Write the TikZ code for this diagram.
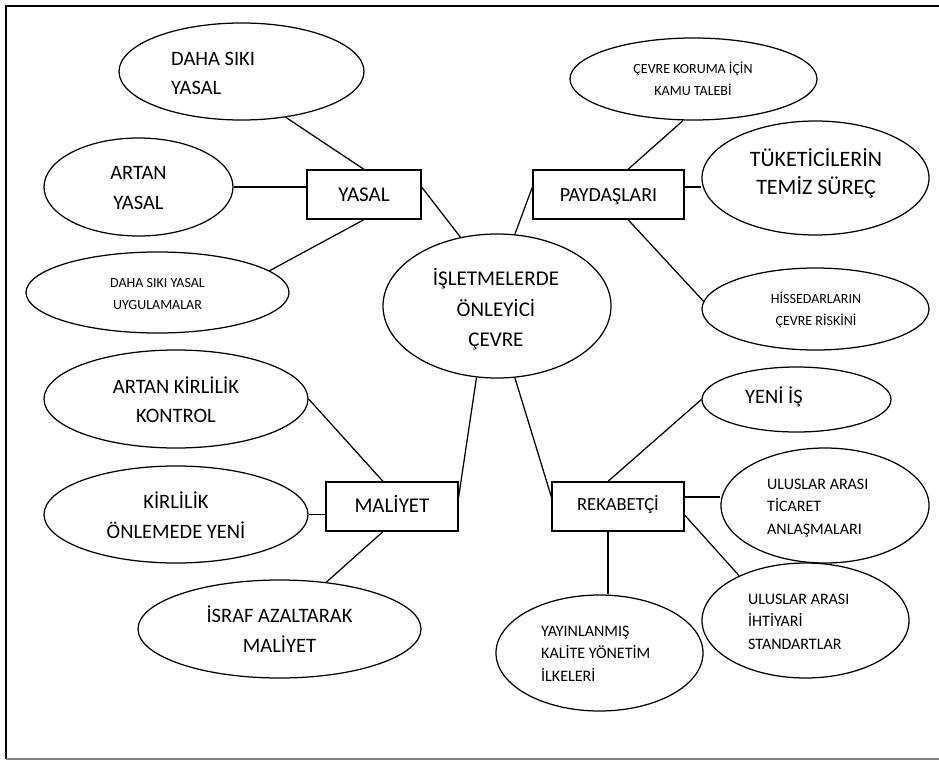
\documentclass[tikz,border=0pt]{standalone}
\usepackage{fontspec}
\setmainfont{Carlito}
\usetikzlibrary{shapes.geometric,calc}
\newcommand{\st}{\rule[-0.268em]{0pt}{1.168em}}
\tikzset{
  ell/.style={draw, ellipse, line width=1.25pt, inner sep=0pt},
  box/.style={draw, rectangle, line width=1.25pt, inner sep=0pt},
  lnk/.style={line width=1.25pt},
  txt/.style={inner sep=0pt},
  bigf/.style={font=\fontsize{20.5}{29.5}\selectfont},
  cenf/.style={font=\fontsize{21}{30.5}\selectfont},
  hugef/.style={font=\fontsize{22}{28}\selectfont},
  smallf/.style={font=\fontsize{14}{22}\selectfont},
  medf/.style={font=\fontsize{16}{22.5}\selectfont},
}
\begin{document}
\begin{tikzpicture}[x=1pt,y=-1pt]
\useasboundingbox (0,0) rectangle (939,760);
% frame
\coordinate (ftr) at (939,6);
\coordinate (ftl) at (6,6);
\coordinate (fbl) at (6,759);
\coordinate (fbr) at (939,759);
\draw[line width=1.6pt] (ftr) -- (ftl) -- (fbl);
\draw[line width=1.4pt, black!50] (fbl) -- (fbr);

% ellipses
\node[ell, minimum width=245pt, minimum height=97pt] (e1) at (241.5,71.5) {};
\node[ell, minimum width=189pt, minimum height=98pt] (e2) at (138.5,187) {};
\node[ell, minimum width=263pt, minimum height=81pt] (e3) at (157.5,292.5) {};
\node[ell, minimum width=228pt, minimum height=144pt] (c) at (497,306) {};
\node[ell, minimum width=247pt, minimum height=82pt] (e4) at (693.5,79) {};
\node[ell, minimum width=227pt, minimum height=114pt] (e5) at (815.5,178) {};
\node[ell, minimum width=227pt, minimum height=82pt] (e6) at (815.5,309) {};
\node[ell, minimum width=264pt, minimum height=98pt] (e7) at (176,399) {};
\node[ell, minimum width=264pt, minimum height=97pt] (e8) at (176,514.5) {};
\node[ell, minimum width=283pt, minimum height=98pt] (e9) at (279.5,629) {};
\node[ell, minimum width=189pt, minimum height=65pt] (e10) at (796.5,399.5) {};
\node[ell, minimum width=208pt, minimum height=115pt] (e11) at (825,505.5) {};
\node[ell, minimum width=207pt, minimum height=115pt] (e12) at (805.5,620.5) {};
\node[ell, minimum width=207pt, minimum height=116pt] (e13) at (599.5,653) {};

% boxes
\node[box, minimum width=114pt, minimum height=49pt] (r1) at (364,194.5) {};
\node[box, minimum width=151pt, minimum height=49pt] (r2) at (608.5,194.5) {};
\node[box, minimum width=132pt, minimum height=49pt] (r3) at (392,506.5) {};
\node[box, minimum width=132pt, minimum height=49pt] (r4) at (618,506.5) {};

% texts
\node[txt, bigf, align=left, anchor=west] (t1) at (171,73.5) {\st DAHA SIKI\\\st YASAL};
\node[txt, bigf, align=center] (t2) at (138.5,188) {\st ARTAN\\\st YASAL};
\node[txt, smallf, align=center] (t3) at (157.5,294) {\st DAHA SIKI YASAL\\\st UYGULAMALAR};
\node[txt, cenf, align=center] (tc) at (496,309.5) {\st İŞLETMELERDE\\\st ÖNLEYİCİ\\\st ÇEVRE};
\node[txt, smallf, align=center] (t4) at (693,80) {\st ÇEVRE KORUMA İÇİN\\\st KAMU TALEBİ};
\node[txt, hugef, align=center] (t5) at (816,174) {\st TÜKETİCİLERİN\\\st TEMİZ SÜREÇ};
\node[txt, smallf, align=center] (t6) at (816,310) {\st HİSSEDARLARIN\\\st ÇEVRE RİSKİNİ};
\node[txt, bigf, align=center] (t7) at (176,401.5) {\st ARTAN KİRLİLİK\\\st KONTROL};
\node[txt, bigf, align=center] (t8) at (176,517) {\st KİRLİLİK\\\st ÖNLEMEDE YENİ};
\node[txt, bigf, align=center] (t9) at (279.5,631) {\st İSRAF AZALTARAK\\\st MALİYET};
\node[txt, bigf, anchor=base west] (t10) at (745,403.8) {YENİ İŞ};
\node[txt, medf, align=left, anchor=west] (t11) at (767,506.5) {\st ULUSLAR ARASI\\\st TİCARET\\\st ANLAŞMALARI};
\node[txt, medf, align=left, anchor=west] (t12) at (748,621.5) {\st ULUSLAR ARASI\\\st İHTİYARİ\\\st STANDARTLAR};
\node[txt, medf, align=left, anchor=west] (t13) at (541,653.5) {\st YAYINLANMIŞ\\\st KALİTE YÖNETİM\\\st İLKELERİ};
\node[txt, font=\fontsize{21}{25}\selectfont, anchor=base] (tr1) at (364,201.3) {YASAL};
\node[txt, font=\fontsize{20}{25}\selectfont, anchor=base] (tr2) at (608.5,201) {PAYDAŞLARI};
\node[txt, font=\fontsize{21}{25}\selectfont, anchor=base] (tr3) at (392,512.5) {MALİYET};
\node[txt, font=\fontsize{18.5}{25}\selectfont, anchor=base] (tr4) at (618,510.5) {REKABETÇİ};

% connectors
\draw[lnk] (e1.-46) -- (r1.north);
\draw[lnk] (e2.east) -- (e2.east -| r1.west);
\draw[lnk] (r1.south) -- (e3.11);
\draw[lnk] ([yshift=7.5pt]r1.east) -- (c.118);
\draw[lnk] (c.76) -- ([yshift=7.5pt]r2.west);
\draw[lnk] ([xshift=19.5pt]r2.north) -- (e4.256);
\draw[lnk] ([yshift=7.5pt]r2.east) -- ([yshift=7.5pt]r2.east -| e5.west);
\draw[lnk] ([xshift=19.5pt]r2.south) -- (e6.176.5);
\draw[lnk] (e7.east) -- ([xshift=-9pt]r3.north);
\draw[lnk] (e8.east) -- (e8.east -| r3.west);
\draw[lnk] ([xshift=-9pt]r3.south) -- (e9.45);
\draw[lnk] ([yshift=9.5pt]r3.east) -- (c.254.5);
\draw[lnk] (c.284.8) -- ([yshift=9.5pt]r4.west);
\draw[lnk] ([xshift=-10pt]r4.north) -- (e10.west);
\draw[lnk] ([yshift=9.5pt]r4.east) -- ([yshift=9.5pt]r4.east -| e11.west);
\draw[lnk] ([yshift=-8.5pt]r4.east) -- (e12.146);
\draw[lnk] ([xshift=-10pt]r4.south) -- ([xshift=-10pt]r4.south |- e13.north);
\end{tikzpicture}
\end{document}
